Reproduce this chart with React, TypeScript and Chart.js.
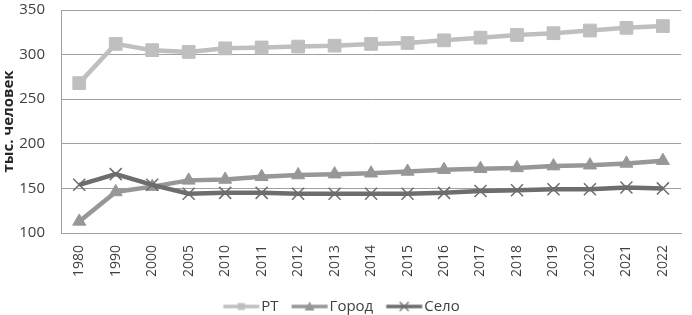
import React, { useEffect, useRef } from "react";
import { Chart, registerables } from "chart.js";

Chart.register(...registerables);

const years = ["1980", "1990", "2000", "2005", "2010", "2011", "2012", "2013", "2014", "2015", "2016", "2017", "2018", "2019", "2020", "2021", "2022"];
const rtValues = [268, 312, 305, 303, 307, 308, 309, 310, 312, 313, 316, 319, 322, 324, 327, 330, 332];
const gorodValues = [113, 146, 152, 159, 160, 163, 165, 166, 167, 169, 171, 172, 173, 175, 176, 178, 181];
const seloValues = [154, 166, 154, 144, 145, 145, 144, 144, 144, 144, 145, 147, 148, 149, 149, 151, 150];
const seriesNames = ["РТ", "Город", "Село"];
const yTicks = [100, 150, 200, 250, 300, 350];
const yTitle = "тыс. человек";

const colors = ["#bfbfbf", "#979797", "#6d6d6d"];
const FONT = "'Open Sans', 'DejaVu Sans', sans-serif";

function legendImage(kind: string, color: string): HTMLCanvasElement {
  const c = document.createElement("canvas");
  c.width = 60;
  c.height = 16;
  const ctx = c.getContext("2d")!;
  const a = 14.75;
  const cy = 8;
  ctx.strokeStyle = color;
  ctx.fillStyle = color;
  ctx.lineWidth = 3.5;
  ctx.beginPath();
  ctx.moveTo(a, cy);
  ctx.lineTo(a + 36, cy);
  ctx.stroke();
  const cx = a + 18;
  if (kind === "rect") {
    ctx.fillRect(cx - 3.5, cy - 3.5, 7, 7);
  } else if (kind === "triangle") {
    ctx.beginPath();
    ctx.moveTo(cx, cy - 5);
    ctx.lineTo(cx + 5, cy + 4);
    ctx.lineTo(cx - 5, cy + 4);
    ctx.closePath();
    ctx.fill();
  } else {
    ctx.lineWidth = 1.2;
    ctx.beginPath();
    ctx.moveTo(cx - 4.5, cy - 4.5);
    ctx.lineTo(cx + 4.5, cy + 4.5);
    ctx.moveTo(cx + 4.5, cy - 4.5);
    ctx.lineTo(cx - 4.5, cy + 4.5);
    ctx.stroke();
  }
  return c;
}

const legendShift = {
  id: "legendShift",
  afterLayout(chart: any) {
    const lg = chart.legend;
    if (lg) {
      lg.top += 9;
      lg.bottom += 9;
      lg.left -= 4;
      lg.right -= 4;
    }
  },
};

export default function App() {
  const ref = useRef<HTMLCanvasElement | null>(null);

  useEffect(() => {
    if (!ref.current) return;
    const styles = ["rect", "triangle", "crossRot"];
    const imgs = styles.map((s, i) => legendImage(s, colors[i]));
    const values = [rtValues, gorodValues, seloValues];
    const radii = [9, 7.5, 8.5];
    const chart = new Chart(ref.current, {
      type: "line",
      data: {
        labels: years,
        datasets: values.map((v, i) => ({
          label: seriesNames[i],
          data: v,
          borderColor: colors[i],
          backgroundColor: colors[i],
          borderWidth: 4.5,
          pointStyle: styles[i] as any,
          pointRadius: radii[i],
          pointBorderWidth: i === 2 ? 1.5 : 1,
          pointBackgroundColor: colors[i],
          pointBorderColor: colors[i],
          tension: 0,
          order: 3 - i,
        })),
      },
      plugins: [legendShift],
      options: {
        animation: false,
        responsive: false,
        layout: { padding: { top: 6, right: 1, left: 0, bottom: 0 } },
        plugins: {
          tooltip: { enabled: false },
          legend: {
            position: "bottom",
            labels: {
              usePointStyle: true,
              pointStyleWidth: 30.5,
              padding: 13,
              color: "#404040",
              font: { family: FONT, size: 15 },
              sort: (a: any, b: any) => a.datasetIndex - b.datasetIndex,
              generateLabels: (ch: any) => {
                const items = Chart.defaults.plugins.legend.labels.generateLabels(ch);
                return items.map((it: any, i: number) => ({ ...it, pointStyle: imgs[it.datasetIndex ?? i] }));
              },
            },
          },
        },
        scales: {
          x: {
            offset: true,
            afterFit: (s: any) => { s.height = 44; },
            grid: { display: false, drawTicks: false },
            border: { color: "#a0a0a0", width: 1 },
            ticks: {
              minRotation: 90,
              maxRotation: 90,
              padding: 12,
              color: "#404040",
              font: { family: FONT, size: 14 },
              autoSkip: false,
            },
          },
          y: {
            min: yTicks[0],
            max: yTicks[yTicks.length - 1],
            afterFit: (s: any) => {
              s.width = 61;
              s.paddingTop = 6;
              s.paddingBottom = 6;
            },
            afterBuildTicks: (s: any) => { s.ticks = yTicks.map((v) => ({ value: v })); },
            grid: { color: "#a0a0a0", lineWidth: 1, drawTicks: false },
            border: { color: "#a0a0a0", width: 1 },
            title: {
              display: true,
              text: yTitle,
              color: "#262626",
              font: { family: FONT, size: 15, weight: "bold" },
              padding: { top: 0, bottom: 0 },
            },
            ticks: {
              padding: 16,
              color: "#404040",
              font: { family: FONT, size: 15, lineHeight: 0.8 },
            },
          },
        },
      },
    });
    return () => chart.destroy();
  }, []);

  return (
    <div style={{ position: "absolute", left: 0, top: 0, width: 692, height: 315, background: "#fff" }}>
      <canvas ref={ref} width={692} height={315} />
    </div>
  );
}
